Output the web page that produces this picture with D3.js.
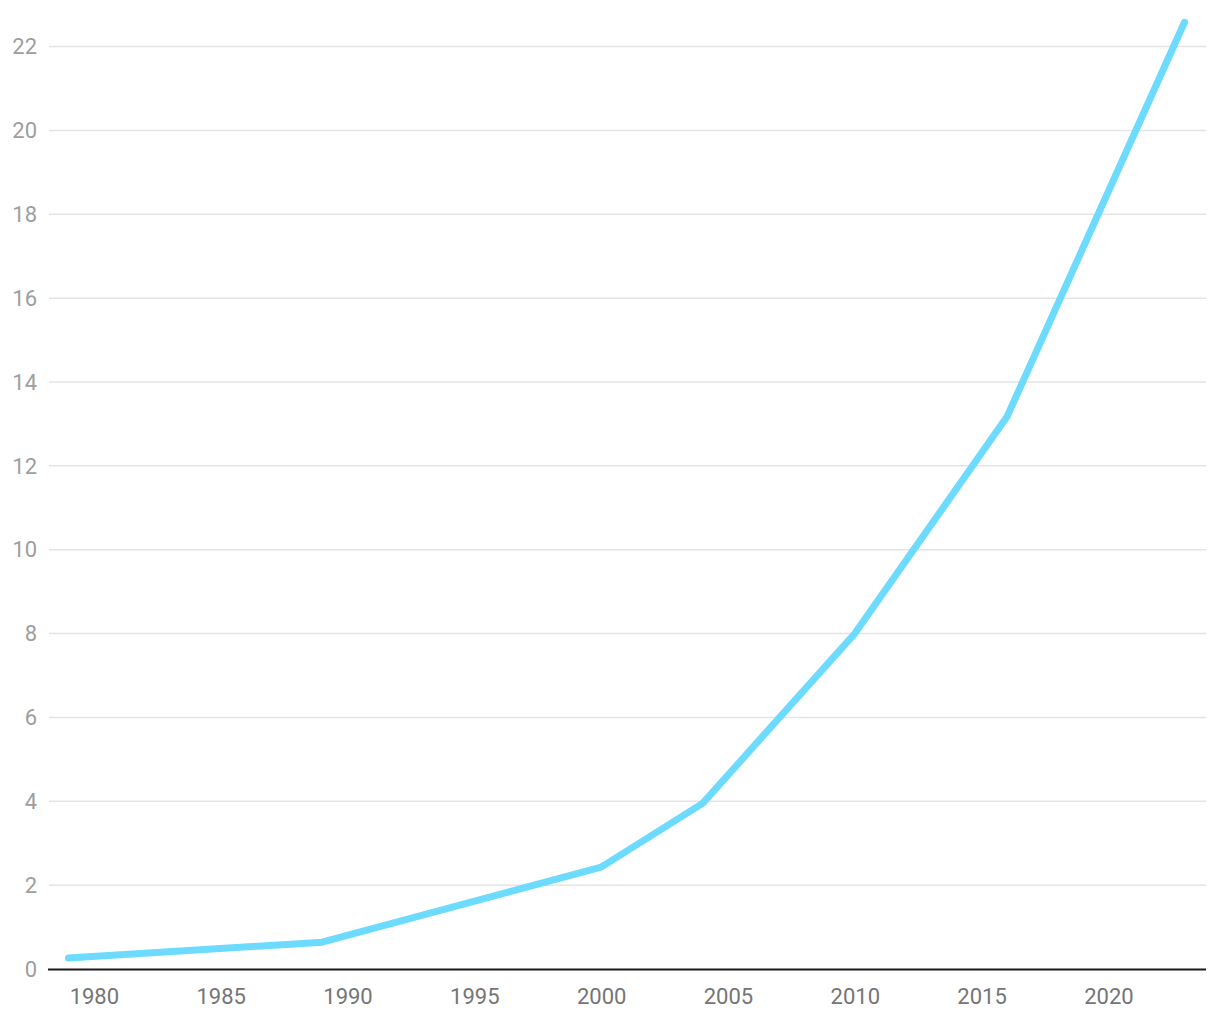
<!DOCTYPE html>
<html>
<head>
<meta charset="utf-8">
<script src="https://cdn.jsdelivr.net/npm/d3@7"></script>
<style>
  body { margin: 0; background: #fff; }
  svg text { font-family: Roboto, sans-serif; }
</style>
</head>
<body>
<svg></svg>
<script>
const width = 1220;
const height = 1020;

// ================================
// Data
// ================================
const years = [1979, 1989, 2000, 2004, 2010, 2016, 2023];
const values = [0.26, 0.64, 2.43, 3.95, 8.0, 13.17, 22.58];
const xTicks = [1980, 1985, 1990, 1995, 2000, 2005, 2010, 2015, 2020];
const yTicks = [0, 2, 4, 6, 8, 10, 12, 14, 16, 18, 20, 22];

const plotLeft = 49;
const plotRight = 1206;

const svg = d3.select('svg')
  .attr('width', width)
  .attr('height', height);

const x = d3.scaleLinear()
  .domain([1979, 2023])
  .range([68.5, 1184.5]);

const y = d3.scaleLinear()
  .domain([0, 22])
  .range([969, 46.6]);

// ================================
// Gridlines + y labels
// ================================
svg.append('g')
  .selectAll('line')
  .data(yTicks.filter(d => d > 0))
  .enter()
  .append('line')
    .attr('x1', plotLeft)
    .attr('x2', plotRight)
    .attr('y1', d => y(d))
    .attr('y2', d => y(d))
    .attr('stroke', '#e4e4e4')
    .attr('stroke-width', 1.5);

svg.append('g')
  .selectAll('text')
  .data(yTicks)
  .enter()
  .append('text')
    .attr('x', 37)
    .attr('y', d => y(d))
    .attr('dy', '0.35em')
    .attr('text-anchor', 'end')
    .attr('fill', '#9e9e9e')
    .style('font-size', '22px')
    .text(d => d);

// ================================
// x axis
// ================================
const xAxis = svg.append('g')
  .attr('transform', `translate(0, ${y(0)})`)
  .call(d3.axisBottom(x).tickValues(xTicks).tickFormat(d3.format('d')).tickSize(0).tickPadding(19));

xAxis.select('.domain').remove();
xAxis.selectAll('text')
  .attr('fill', '#757575')
  .style('font-size', '22px');

svg.append('line')
  .attr('x1', plotLeft - 1)
  .attr('x2', plotRight)
  .attr('y1', y(0) + 0.5)
  .attr('y2', y(0) + 0.5)
  .attr('stroke', '#1a1a1a')
  .attr('stroke-width', 2);

// ================================
// Line
// ================================
const line = d3.line()
  .x((d, i) => x(years[i]))
  .y(d => y(d));

svg.append('path')
  .datum(values)
  .attr('d', line)
  .attr('fill', 'none')
  .attr('stroke', '#6cdbff')
  .attr('stroke-width', 7)
  .attr('stroke-linecap', 'round')
  .attr('stroke-linejoin', 'round');
</script>
</body>
</html>
